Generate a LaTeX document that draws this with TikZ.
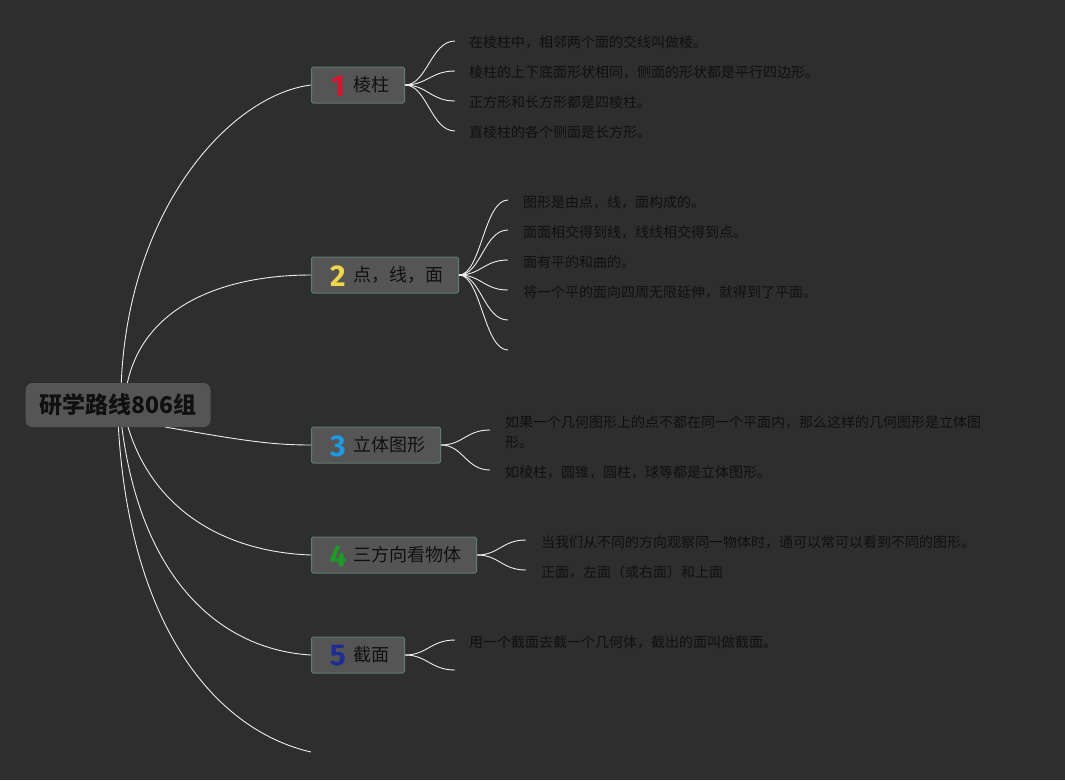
\documentclass[tikz,border=0pt]{standalone}
\usepackage{fontspec}
\newfontfamily\cjk{Noto Sans CJK SC}
\newfontfamily\numfont{Fira Sans}[BoldFont={* Bold}]
\definecolor{bg}{HTML}{2E2E2E}
\definecolor{boxfill}{HTML}{555555}
\definecolor{boxline}{HTML}{5E7F6E}
\definecolor{rootfill}{HTML}{555555}
\definecolor{wire}{HTML}{EDEDED}
\definecolor{ink}{HTML}{101010}
\definecolor{n1}{HTML}{D8152F}
\definecolor{n2}{HTML}{F2D74A}
\definecolor{n3}{HTML}{1E9BE0}
\definecolor{n4}{HTML}{1E9A26}
\definecolor{n5}{HTML}{1F2C92}
\tikzset{
  wireline/.style={draw=wire, line width=0.9pt},
  topic/.style={draw=boxline, fill=boxfill, line width=1pt, rounded corners=1.5pt, anchor=west, minimum height=36pt, inner sep=0pt, text=ink, font=\cjk\fontsize{18}{20}\selectfont},
  leaf/.style={anchor=west, inner sep=0pt, text=ink, font=\cjk\fontsize{14}{20}\selectfont, align=left},
  rootbox/.style={fill=rootfill, rounded corners=7pt, minimum width=185pt, minimum height=44pt, text=ink, font=\cjk\bfseries\fontsize{23}{26}\selectfont},
  num/.style={font=\numfont\bfseries\fontsize{30}{30}\selectfont}
}
\begin{document}
\begin{tikzpicture}[x=1pt,y=-1pt]
\fill[bg] (0,0) rectangle (1065,780);
\useasboundingbox (0,0) rectangle (1065,780);

% anchors
\coordinate (r1) at (121,390);
\coordinate (r2) at (126,390);
\coordinate (r3) at (165,427);
\coordinate (r4) at (126,420);
\coordinate (r5) at (121,420);
\coordinate (r6) at (118,420);
\coordinate (e6) at (311,752);

% topics
\node[topic, minimum width=93pt] (t1) at (311,85) {\hspace*{16pt}\makebox[24pt][l]{}棱柱\hspace*{14pt}};
\node[topic, minimum width=147pt] (t2) at (311,275) {\hspace*{16pt}\makebox[24pt][l]{}点，线，面\hspace*{14pt}};
\node[topic, minimum width=129pt] (t3) at (311,445) {\hspace*{16pt}\makebox[24pt][l]{}立体图形\hspace*{14pt}};
\node[topic, minimum width=165pt] (t4) at (311,555) {\hspace*{16pt}\makebox[24pt][l]{}三方向看物体\hspace*{14pt}};
\node[topic, minimum width=93pt] (t5) at (311,655) {\hspace*{16pt}\makebox[24pt][l]{}截面\hspace*{14pt}};

\node[num, text=n1] (d1) at (338,86) {1};
\node[num, text=n2] (d2) at (338,276) {2};
\node[num, text=n3] (d3) at (338,446) {3};
\node[num, text=n4] (d4) at (338,556) {4};
\node[num, text=n5] (d5) at (338,656) {5};

% main branches
\draw[wireline] (r1) .. controls (126,210) and (230,95) .. (t1.west);
\draw[wireline] (r2) .. controls (140,305) and (225,275) .. (t2.west);
\draw[wireline] (r3) .. controls (240,440) and (270,445) .. (t3.west);
\draw[wireline] (r4) .. controls (150,510) and (225,552) .. (t4.west);
\draw[wireline] (r5) .. controls (140,585) and (225,650) .. (t5.west);
\draw[wireline] (r6) .. controls (128,625) and (215,730) .. (e6);

\node[rootbox] (root) at (118,405) {研学路线806组};

% leaves topic 1
\coordinate (a1) at (455,41);
\coordinate (a2) at (455,71);
\coordinate (a3) at (455,101);
\coordinate (a4) at (455,131);
\node[leaf] (l11) at (469,42) {在棱柱中，相邻两个面的交线叫做棱。};
\node[leaf] (l12) at (469,72) {棱柱的上下底面形状相同，侧面的形状都是平行四边形。};
\node[leaf] (l13) at (469,102) {正方形和长方形都是四棱柱。};
\node[leaf] (l14) at (469,132) {直棱柱的各个侧面是长方形。};
\foreach \p in {a1,a2,a3,a4}
  \draw[wireline] (t1.east) .. controls +(22,0) and +(-24,0) .. (\p);

% leaves topic 2
\coordinate (b1) at (508,200);
\coordinate (b2) at (508,230);
\coordinate (b3) at (508,260);
\coordinate (b4) at (508,290);
\coordinate (b5) at (508,320);
\coordinate (b6) at (508,350);
\node[leaf] (l21) at (523,202) {图形是由点，线，面构成的。};
\node[leaf] (l22) at (523,232) {面面相交得到线，线线相交得到点。};
\node[leaf] (l23) at (523,262) {面有平的和曲的。};
\node[leaf] (l24) at (523,292) {将一个平的面向四周无限延伸，就得到了平面。};
\foreach \p in {b1,b2,b3,b4,b5,b6}
  \draw[wireline] (t2.east) .. controls +(22,0) and +(-24,0) .. (\p);

% leaves topic 3
\coordinate (c1) at (490,430);
\coordinate (c2) at (490,470);
\node[leaf] (l31) at (505,432) {如果一个几何图形上的点不都在同一个平面内，那么这样的几何图形是立体图\\形。};
\node[leaf] (l32) at (505,472) {如棱柱，圆锥，圆柱，球等都是立体图形。};
\foreach \p in {c1,c2}
  \draw[wireline] (t3.east) .. controls +(22,0) and +(-24,0) .. (\p);

% leaves topic 4
\coordinate (f1) at (526,540);
\coordinate (f2) at (526,570);
\node[leaf] (l41) at (541,542) {当我们从不同的方向观察同一物体时，通可以常可以看到不同的图形。};
\node[leaf] (l42) at (541,572) {正面，左面（或右面）和上面};
\foreach \p in {f1,f2}
  \draw[wireline] (t4.east) .. controls +(22,0) and +(-24,0) .. (\p);

% leaves topic 5
\coordinate (g1) at (455,640);
\coordinate (g2) at (455,670);
\node[leaf] (l51) at (469,642) {用一个截面去截一个几何体，截出的面叫做截面。};
\foreach \p in {g1,g2}
  \draw[wireline] (t5.east) .. controls +(22,0) and +(-24,0) .. (\p);
\end{tikzpicture}
\end{document}
